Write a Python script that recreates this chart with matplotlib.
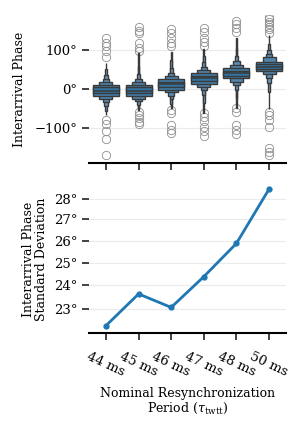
import numpy as np
import matplotlib
matplotlib.use("Agg")
import matplotlib.pyplot as plt
from matplotlib.ticker import FixedLocator, FuncFormatter, NullLocator

plt.rcParams['font.family'] = ['DejaVu Serif']
plt.rcParams['mathtext.fontset'] = 'dejavuserif'

periods = ['44 ms', '45 ms', '46 ms', '47 ms', '48 ms', '50 ms']

# letter values (deg), innermost (quartiles) first, outward
medians = [-4, -4, 12, 27, 40, 57]
upper_44 = [4, 10, 18, 26, 36, 50, 66]
lower_44 = [-11, -18, -26, -34, -44, -56, -68]
upper_45 = [4, 10, 17, 25, 38, 60, 92]
lower_45 = [-11, -18, -25, -32, -40, -48, -55]
upper_46 = [19, 25, 33, 42, 55, 75, 96]
lower_46 = [5, -2, -9, -17, -27, -38, -50]
upper_47 = [34, 40, 48, 57, 70, 85, 102]
lower_47 = [20, 14, 6, -3, -15, -35, -62]
upper_48 = [47, 53, 62, 71, 85, 105, 130]
lower_48 = [33, 27, 19, 10, -2, -22, -50]
upper_50 = [64, 70, 82, 90, 100, 115, 138]
lower_50 = [51, 45, 38, 28, 16, -8, -52]

outliers_44 = [81, 98, 110, 119, 132, -79, -90, -107, -129, -169]
outliers_45 = [98, 104, 119, 143, 150, 158, -58, -67, -75, -84, -90]
outliers_46 = [109, 119, 132, 143, 153, -54, -62, -92, -105, -114]
outliers_47 = [109, 121, 132, 147, 156, -62, -71, -81, -97, -109, -122]
outliers_48 = [147, 156, 167, 175, -50, -58, -92, -105, -115]
outliers_50 = [143, 153, 160, 167, 173, 179, 184, -58, -67, -79, -97, -152, -161, -169]

# interarrival phase std dev (deg)
phase_std = [22.34, 23.64, 23.08, 24.38, 25.87, 28.5]

uppers = np.array([upper_44, upper_45, upper_46, upper_47, upper_48, upper_50])
lowers = np.array([lower_44, lower_45, lower_46, lower_47, lower_48, lower_50])
outliers = [outliers_44, outliers_45, outliers_46, outliers_47, outliers_48, outliers_50]

deg_fmt = FuncFormatter(lambda v, p: f"{v:g}°".replace('-', '\u2212'))

fig = plt.figure(figsize=(3.02, 4.23), dpi=100)
ax1 = fig.add_axes([0.2947, 0.6147, 0.6523, 0.35])
ax2 = fig.add_axes([0.2947, 0.2128, 0.6523, 0.3494])

x = np.arange(len(periods))
widths = [0.8, 0.8, 0.4, 0.2, 0.1, 0.05, 0.025]
base = np.array(matplotlib.colors.to_rgb('#3274a1'))
n_lv = len(widths)
for k in range(n_lv - 1, -1, -1):
    t = k / (n_lv - 1)
    col = base + (np.array([0.55, 0.66, 0.78]) - base) * t
    ax1.bar(x, uppers[:, k] - lowers[:, k], bottom=lowers[:, k], width=widths[k],
            color=col, edgecolor='#3a3a3a', linewidth=1.0, zorder=3 + (n_lv - k) * 0.01)
ax1.hlines(medians, x - 0.4, x + 0.4, color='#3a3a3a', lw=1.1, zorder=4)
for i, vals in enumerate(outliers):
    ax1.plot([i] * len(vals), vals, 'o', ms=6, mfc='none', mec='#8f8f8f', mew=0.6, zorder=2)

ax1.set_xlim(-0.52, 5.52)
ax1.set_ylim(-190, 190)
ax1.set_yticks([-100, 0, 100])
ax1.yaxis.set_major_formatter(deg_fmt)
ax1.set_xticks(x)
ax1.set_xticklabels([])
ax1.set_ylabel('Interarrival Phase', fontsize=9, labelpad=6)
ax1.grid(axis='y', color='#ebebeb', lw=0.8, zorder=0)

ax2.plot(x, phase_std, '-o', color='#1f77b4', lw=2.0, ms=3.5, zorder=3)
ax2.set_yscale('log')
ax2.set_ylim(22.05, 28.7)
ax2.yaxis.set_major_locator(FixedLocator([23, 24, 25, 26, 27, 28]))
ax2.yaxis.set_minor_locator(NullLocator())
ax2.yaxis.set_major_formatter(deg_fmt)
ax2.set_xlim(-0.52, 5.52)
ax2.set_xticks(x)
ax2.set_xticklabels(periods, rotation=-25, ha='center')
ax2.set_ylabel('Interarrival Phase\nStandard Deviation', fontsize=9, linespacing=1.0)
ax2.set_xlabel('Nominal Resynchronization\nPeriod ($\\tau_{\\mathrm{twtt}}$)', fontsize=9,
               linespacing=1.1, labelpad=6)
ax2.grid(axis='y', color='#ebebeb', lw=0.8, zorder=0)

for ax in (ax1, ax2):
    for s in ('left', 'right', 'top'):
        ax.spines[s].set_visible(False)
    ax.spines['bottom'].set_linewidth(1.5)
    ax.set_axisbelow(True)
    ax.tick_params(axis='both', labelsize=9.5, length=5, width=1.2, color='#222222')
ax2.tick_params(axis='x', pad=7)

fig.savefig('out.png', dpi=100)
